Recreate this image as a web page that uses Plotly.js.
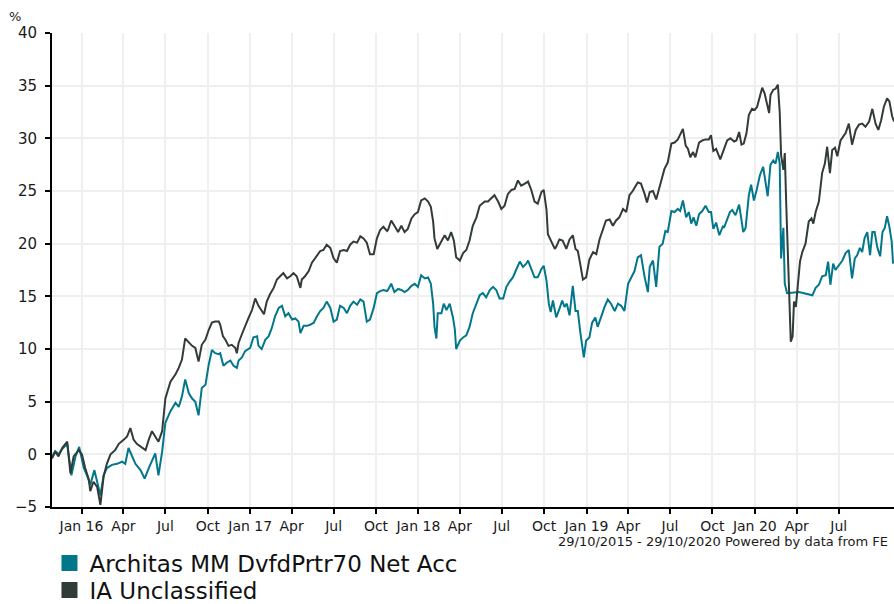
<!DOCTYPE html>
<html>
<head>
<meta charset="utf-8">
<script src="https://cdn.plot.ly/plotly-3.0.1.min.js"></script>
<style>
  html, body { margin: 0; padding: 0; background: #fff; }
  #chart { width: 894px; height: 604px; }
</style>
</head>
<body>
<div id="chart"></div>
<script>
// Series names
const seriesNames = ["Architas MM DvfdPrtr70 Net Acc", "IA Unclassified"];

// IA Unclassified (cumulative % growth)
const iaDates = [
"2015-10-29","2015-11-05","2015-11-12","2015-11-20","2015-12-01","2015-12-08","2015-12-15","2015-12-26",
"2016-01-02","2016-01-09","2016-01-17","2016-01-20","2016-01-27","2016-02-04","2016-02-11","2016-02-18",
"2016-02-25","2016-03-04","2016-03-14","2016-03-22","2016-04-02","2016-04-09","2016-04-16","2016-04-23",
"2016-04-30","2016-05-11","2016-05-19","2016-05-26","2016-06-02","2016-06-09","2016-06-16","2016-06-24",
"2016-07-01","2016-07-12","2016-07-23","2016-07-30","2016-08-06","2016-08-13","2016-08-21","2016-08-28",
"2016-09-04","2016-09-11","2016-09-18","2016-09-26","2016-10-03","2016-10-10","2016-10-17","2016-10-25",
"2016-10-28","2016-11-03","2016-11-08","2016-11-15","2016-11-22","2016-11-30","2016-12-03","2016-12-07",
"2016-12-14","2016-12-21","2016-12-28","2017-01-05","2017-01-12","2017-01-19","2017-01-26","2017-01-31",
"2017-02-06","2017-02-13","2017-02-21","2017-02-28","2017-03-07","2017-03-14","2017-03-22","2017-03-29",
"2017-04-05","2017-04-12","2017-04-20","2017-04-23","2017-04-30","2017-05-08","2017-05-15","2017-05-22",
"2017-06-02","2017-06-09","2017-06-16","2017-06-24","2017-07-01","2017-07-08","2017-07-15","2017-07-23",
"2017-07-30","2017-08-06","2017-08-13","2017-08-21","2017-08-28","2017-09-04","2017-09-11","2017-09-18",
"2017-09-26","2017-10-03","2017-10-10","2017-10-17","2017-10-25",
"2017-10-27","2017-11-03","2017-11-10","2017-11-18","2017-11-25","2017-12-02","2017-12-09","2017-12-17",
"2017-12-24","2017-12-31","2018-01-07","2018-01-15","2018-01-22","2018-01-28","2018-02-02","2018-02-05",
"2018-02-11","2018-02-20","2018-02-27","2018-03-06","2018-03-13","2018-03-19","2018-03-24","2018-04-01",
"2018-04-08","2018-04-15","2018-04-22","2018-04-29","2018-05-07","2018-05-14","2018-05-25","2018-06-01",
"2018-06-08","2018-06-15","2018-06-23","2018-06-30","2018-07-07","2018-07-14","2018-07-22","2018-07-29",
"2018-08-05","2018-08-12","2018-08-20","2018-08-27","2018-09-03","2018-09-10","2018-09-17","2018-09-25",
"2018-09-30","2018-10-06","2018-10-09","2018-10-16","2018-10-24",
"2018-10-27","2018-11-03","2018-11-10","2018-11-18","2018-11-25","2018-12-02","2018-12-08","2018-12-13",
"2018-12-18","2018-12-24","2018-12-31","2019-01-07","2019-01-15","2019-01-22","2019-01-29","2019-02-05",
"2019-02-12","2019-02-20","2019-02-27","2019-03-06","2019-03-13","2019-03-21","2019-03-28","2019-04-04",
"2019-04-11","2019-04-22","2019-04-29","2019-05-07","2019-05-12","2019-05-18","2019-05-25","2019-06-01",
"2019-06-08","2019-06-14","2019-06-19","2019-06-26","2019-07-04","2019-07-11","2019-07-18","2019-07-23",
"2019-07-29","2019-08-04","2019-08-09","2019-08-14","2019-08-20","2019-08-25","2019-09-02","2019-09-09",
"2019-09-16","2019-09-23","2019-09-28","2019-10-03","2019-10-09","2019-10-18","2019-10-24",
"2019-10-26","2019-11-02","2019-11-09","2019-11-17","2019-11-22","2019-11-28","2019-12-03","2019-12-08",
"2019-12-14","2019-12-19","2019-12-26","2020-01-01","2020-01-06","2020-01-12","2020-01-17","2020-01-22",
"2020-01-28","2020-02-01","2020-02-04","2020-02-10","2020-02-15","2020-02-20","2020-02-24","2020-02-27",
"2020-03-03","2020-03-06","2020-03-09","2020-03-13","2020-03-16","2020-03-19","2020-03-23","2020-03-26",
"2020-03-30","2020-04-04","2020-04-08","2020-04-13","2020-04-20","2020-04-27","2020-05-03","2020-05-07",
"2020-05-12","2020-05-19","2020-05-26","2020-06-01","2020-06-06","2020-06-12","2020-06-17","2020-06-23",
"2020-06-28","2020-07-05","2020-07-11","2020-07-16","2020-07-23","2020-07-30","2020-08-07","2020-08-14",
"2020-08-21","2020-08-28","2020-09-05","2020-09-12","2020-09-19","2020-09-25","2020-10-01","2020-10-07",
"2020-10-14","2020-10-19","2020-10-25","2020-10-29"
];
const iaValues = [
-0.4,0.25,-0.2,0.6,1.2,-1.8,-0.2,0.4,
0,-1.3,-2.4,-3.5,-2.6,-3.1,-4.8,-2.1,
-0.9,0,0.4,1.0,1.4,1.7,2.5,1.4,
1.0,0.7,0.4,1.4,2.2,1.7,1.2,2.2,
5.3,6.9,7.6,8.2,9.0,11.0,10.6,10.3,
10.1,8.8,10.4,10.9,11.8,12.5,12.6,12.6,
12.3,11.2,10.9,10.3,10.4,10.1,9.6,10.6,
11.4,12.2,12.9,13.7,14.8,14.1,13.6,13.3,
14.5,15.2,15.8,16.6,16.9,17.2,16.7,16.9,
17.2,16.9,15.8,16.6,16.9,17.4,18.2,18.6,
19.3,19.4,19.9,19.6,18.6,18.2,19.3,19.4,
19.3,19.9,20.2,20.1,20.7,20.5,20.1,19.0,
19.0,20.5,21.3,21.6,21.2,
21.3,22.2,21.7,21.1,21.7,21.1,21.4,22.4,
22.8,23.0,24.1,24.3,24.0,23.5,22.1,20.5,
19.5,20.2,20.8,20.3,21.1,20.3,18.7,18.4,
19.1,19.4,20.3,21.7,22.5,23.6,24.0,24.0,
24.3,24.6,24.0,23.3,23.6,24.7,25.1,25.2,
26.0,25.5,25.7,25.9,25.1,24.0,23.8,24.9,
25.1,23.2,20.9,20.3,19.5,
19.7,20.4,20.3,19.5,20.4,20.8,19.5,19.3,
18.1,16.6,16.8,18.5,19.2,19.0,20.4,21.4,
22.2,22.3,21.7,22.2,22.5,23.3,23.0,24.6,
25.0,25.8,25.7,24.7,23.9,24.9,25.0,24.2,
25.2,26.3,27.1,27.7,29.5,29.6,29.9,30.3,
30.9,29.3,29.0,28.2,28.7,28.2,29.6,29.8,
29.9,29.9,30.3,28.8,29.0,28.0,28.8,
28.9,29.8,30.0,29.7,29.8,30.6,29.4,29.5,
30.5,32.2,32.8,32.7,33.0,34.1,34.8,34.3,
33.2,32.4,34.1,34.6,34.7,35.1,32.5,28.4,
27.0,28.6,24.0,18.3,13.2,10.7,11.2,14.5,
14.0,16.7,18.3,19.2,20.0,22.1,22.4,21.9,
23.0,24.0,26.7,27.6,29.2,26.7,28.9,29.1,
28.3,29.8,30.2,30.5,31.4,29.4,30.8,31.3,
31.4,31.1,31.6,32.8,31.4,30.8,31.7,33.0,
33.8,33.5,32.1,31.6
];

// Architas MM DvfdPrtr70 Net Acc (cumulative % growth)
const architasDates = [
"2015-10-29","2015-11-05","2015-11-12","2015-11-20","2015-12-01","2015-12-10","2015-12-19","2015-12-27",
"2016-01-06","2016-01-13","2016-01-20","2016-01-29","2016-02-04","2016-02-11","2016-02-18","2016-02-25",
"2016-03-07","2016-03-18","2016-03-29","2016-04-05","2016-04-12","2016-04-20","2016-04-27","2016-05-08",
"2016-05-17","2016-05-26","2016-06-02","2016-06-09","2016-06-16","2016-06-24","2016-07-01","2016-07-12",
"2016-07-23","2016-07-30","2016-08-06","2016-08-13","2016-08-21","2016-08-28","2016-09-04","2016-09-11",
"2016-09-18","2016-09-26","2016-10-03","2016-10-10","2016-10-17","2016-10-25",
"2016-10-28","2016-11-04","2016-11-11","2016-11-19","2016-11-26","2016-12-03","2016-12-07","2016-12-14",
"2016-12-21","2017-01-01","2017-01-08","2017-01-16","2017-01-19","2017-01-26","2017-02-03","2017-02-10",
"2017-02-17","2017-02-24","2017-03-04","2017-03-11","2017-03-18","2017-03-25","2017-04-02","2017-04-09",
"2017-04-16","2017-04-20","2017-04-27","2017-05-04","2017-05-11","2017-05-19","2017-05-26","2017-06-02",
"2017-06-09","2017-06-16","2017-06-24","2017-07-01","2017-07-08","2017-07-15","2017-07-23","2017-07-30",
"2017-08-06","2017-08-13","2017-08-21","2017-08-28","2017-09-04","2017-09-11","2017-09-18","2017-09-26",
"2017-10-03","2017-10-10","2017-10-17","2017-10-25",
"2017-10-27","2017-11-03","2017-11-10","2017-11-18","2017-11-25","2017-12-02","2017-12-09","2017-12-17",
"2017-12-24","2017-12-31","2018-01-07","2018-01-15","2018-01-22","2018-01-28","2018-02-02","2018-02-05",
"2018-02-09","2018-02-12","2018-02-20","2018-02-25","2018-03-03","2018-03-10","2018-03-17","2018-03-21",
"2018-03-24","2018-04-01","2018-04-08","2018-04-15","2018-04-22","2018-04-29","2018-05-07","2018-05-14",
"2018-05-21","2018-05-28","2018-06-05","2018-06-12","2018-06-19","2018-06-26","2018-07-04","2018-07-11",
"2018-07-18","2018-07-25","2018-08-01","2018-08-09","2018-08-16","2018-08-23","2018-08-27","2018-09-03",
"2018-09-10","2018-09-17","2018-09-25","2018-09-30","2018-10-06","2018-10-11","2018-10-15","2018-10-20",
"2018-10-25",
"2018-10-27","2018-11-03","2018-11-09","2018-11-14","2018-11-19","2018-11-25","2018-12-02","2018-12-08",
"2018-12-13","2018-12-18","2018-12-22","2018-12-26","2018-12-31","2019-01-07","2019-01-13","2019-01-20",
"2019-01-25","2019-02-02","2019-02-09","2019-02-16","2019-02-23","2019-03-03","2019-03-10","2019-03-17",
"2019-03-24","2019-04-01","2019-04-08","2019-04-15","2019-04-22","2019-04-29","2019-05-07","2019-05-14",
"2019-05-18","2019-05-25","2019-06-01","2019-06-08","2019-06-15","2019-06-21","2019-06-26","2019-07-04",
"2019-07-11","2019-07-18","2019-07-23","2019-07-29","2019-08-05","2019-08-11","2019-08-16","2019-08-21",
"2019-08-27","2019-09-02","2019-09-09","2019-09-16","2019-09-23","2019-09-28","2019-10-03","2019-10-09",
"2019-10-16","2019-10-24",
"2019-10-26","2019-11-02","2019-11-08","2019-11-13","2019-11-20","2019-11-28","2019-12-03","2019-12-07",
"2019-12-12","2019-12-19","2019-12-24","2019-12-30","2020-01-05","2020-01-12","2020-01-19","2020-01-24",
"2020-01-29","2020-02-04","2020-02-10","2020-02-15","2020-02-20","2020-02-24","2020-02-27","2020-03-03",
"2020-03-06","2020-03-11","2020-04-06","2020-05-05","2020-05-12","2020-05-19","2020-05-26","2020-06-03",
"2020-06-08","2020-06-13","2020-06-19","2020-06-24","2020-07-02","2020-07-09","2020-07-16","2020-07-23",
"2020-07-30","2020-08-05","2020-08-10","2020-08-16","2020-08-21","2020-08-26","2020-09-01","2020-09-07",
"2020-09-12","2020-09-17","2020-09-23","2020-09-29","2020-10-04","2020-10-09","2020-10-14","2020-10-19",
"2020-10-24","2020-10-27"
];
const architasValues = [
-0.2,0.3,0,0.5,1.0,-2.0,-0.2,0.7,
-1.3,-2.0,-2.9,-1.5,-2.6,-3.9,-2.0,-1.3,
-1.0,-0.9,-0.7,-0.9,0.6,-0.2,-0.9,-1.5,
-2.3,-1.3,-0.5,0.1,-2.0,0.25,3.0,4.1,
4.9,4.5,5.5,7.1,5.8,5.3,5.0,3.7,
6.3,6.6,8.5,9.9,9.6,9.5,
9.6,8.4,8.7,8.9,8.4,8.2,8.9,9.2,
9.8,10.1,11.1,11.2,10.3,10.0,10.9,11.2,
12.0,13.1,13.9,14.1,13.1,13.4,12.8,12.9,
12.6,11.5,12.2,12.2,12.3,12.5,13.1,13.6,
13.9,14.5,13.9,12.6,12.8,14.1,13.9,13.4,
14.1,14.5,14.2,14.7,14.5,12.6,12.8,13.9,
15.3,15.5,15.6,15.5,
15.6,16.2,15.4,15.7,15.6,15.4,15.6,16.0,
16.2,15.9,17.0,16.7,16.8,16.2,14.3,12.1,
11.0,13.4,13.4,14.3,13.7,14.3,13.0,11.9,
10.0,10.8,11.1,11.3,12.1,13.4,14.3,15.1,
15.3,14.9,15.6,15.9,15.6,14.8,14.8,15.9,
16.4,16.8,17.5,18.3,17.8,18.1,18.4,17.6,
16.8,16.8,17.6,17.9,16.5,14.3,13.5,14.6,
13.2,
13.0,13.8,14.6,14.0,14.3,13.2,16.0,13.6,
13.6,11.7,10.3,9.2,10.8,11.1,12.5,13.0,
12.1,13.2,14.0,14.7,14.3,13.6,14.3,14.1,
13.6,16.2,16.8,17.4,18.7,18.9,16.8,15.4,
17.8,18.4,15.9,19.7,20.0,21.2,21.1,23.1,
23.0,23.3,23.1,24.1,22.5,23.0,21.9,22.5,
21.7,22.8,23.1,23.6,23.0,23.0,21.4,22.0,
20.8,21.7,
21.5,22.4,23.0,23.2,22.7,23.7,22.4,21.1,
21.5,24.6,25.6,24.1,25.1,26.5,27.3,25.9,
24.5,27.5,27.9,27.6,28.7,27.6,18.6,21.5,
16.2,15.3,15.4,15.1,15.8,16.1,16.9,17.0,
18.3,16.1,18.1,17.5,18.0,18.4,19.1,19.4,
16.7,18.6,18.9,19.6,19.2,20.5,21.1,18.9,
21.1,21.1,19.6,18.8,21.1,21.5,22.6,21.6,
20.2,18.1
];

// Axis ticks
const tickDates = [
"2016-01-01","2016-04-01","2016-07-01","2016-10-01",
"2017-01-01","2017-04-01","2017-07-01","2017-10-01",
"2018-01-01","2018-04-01","2018-07-01","2018-10-01",
"2019-01-01","2019-04-01","2019-07-01","2019-10-01",
"2020-01-01","2020-04-01","2020-07-01"
];
const tickLabels = [
"Jan 16","Apr","Jul","Oct",
"Jan 17","Apr","Jul","Oct",
"Jan 18","Apr","Jul","Oct",
"Jan 19","Apr","Jul","Oct",
"Jan 20","Apr","Jul"
];
const periodText = "29/10/2015 - 29/10/2020 Powered by data from FE";

const tealColor = "#02778b";
const darkColor = "#313b38";

const traces = [
  { type: "scatter", mode: "lines", x: architasDates, y: architasValues,
    line: { color: tealColor, width: 2 }, showlegend: false, hoverinfo: "x+y" },
  { type: "scatter", mode: "lines", x: iaDates, y: iaValues,
    line: { color: darkColor, width: 2 }, showlegend: false, hoverinfo: "x+y" },
  { type: "scatter", mode: "markers", x: [null], y: [null], name: seriesNames[0],
    marker: { symbol: "square", size: 16, color: tealColor }, showlegend: true, legend: "legend" },
  { type: "scatter", mode: "markers", x: [null], y: [null], name: seriesNames[1],
    marker: { symbol: "square", size: 16, color: darkColor }, showlegend: true, legend: "legend2" }
];

const legendStyle = (yPos) => ({
  x: -0.003, xanchor: "left", y: yPos, yanchor: "middle",
  orientation: "v", font: { size: 23, color: "#111" },
  bgcolor: "rgba(0,0,0,0)", borderwidth: 0
});

const layout = {
  width: 894, height: 604,
  margin: { l: 52, r: 0, t: 33, b: 97, pad: 0, autoexpand: false },
  paper_bgcolor: "#ffffff", plot_bgcolor: "#ffffff",
  font: { family: "DejaVu Sans, Verdana, sans-serif", color: "#1a1a1a", size: 14 },
  showlegend: true,
  legend: legendStyle(-0.1181),
  legend2: legendStyle(-0.1751),
  xaxis: {
    type: "date", range: ["2015-10-29", "2020-10-29"],
    tickmode: "array", tickvals: tickDates, ticktext: tickLabels,
    ticks: "outside", ticklen: 5, tickwidth: 2, tickcolor: "#000",
    showline: true, linecolor: "#000", linewidth: 2,
    showgrid: true, gridcolor: "#efefef", gridwidth: 2,
    zeroline: false, tickfont: { size: 14, color: "#1a1a1a" }, fixedrange: true
  },
  yaxis: {
    range: [-5, 40], tick0: 0, dtick: 5,
    ticks: "outside", ticklen: 5, tickwidth: 2, tickcolor: "#000",
    showline: true, linecolor: "#000", linewidth: 2,
    showgrid: true, gridcolor: "#efefef", gridwidth: 2,
    zeroline: false, tickfont: { size: 15, color: "#1a1a1a" },
    ticklabelstandoff: 5, fixedrange: true
  },
  annotations: [
    { text: "%", xref: "paper", yref: "paper", x: -0.044, y: 1.034,
      xanchor: "center", yanchor: "middle", showarrow: false,
      font: { size: 13, color: "#1a1a1a" } },
    { text: periodText, xref: "paper", yref: "paper", x: 0.995, y: -0.072,
      xanchor: "right", yanchor: "middle", showarrow: false,
      font: { size: 13, color: "#1a1a1a" } }
  ]
};

Plotly.newPlot("chart", traces, layout, { displayModeBar: false, staticPlot: true });
</script>
</body>
</html>
